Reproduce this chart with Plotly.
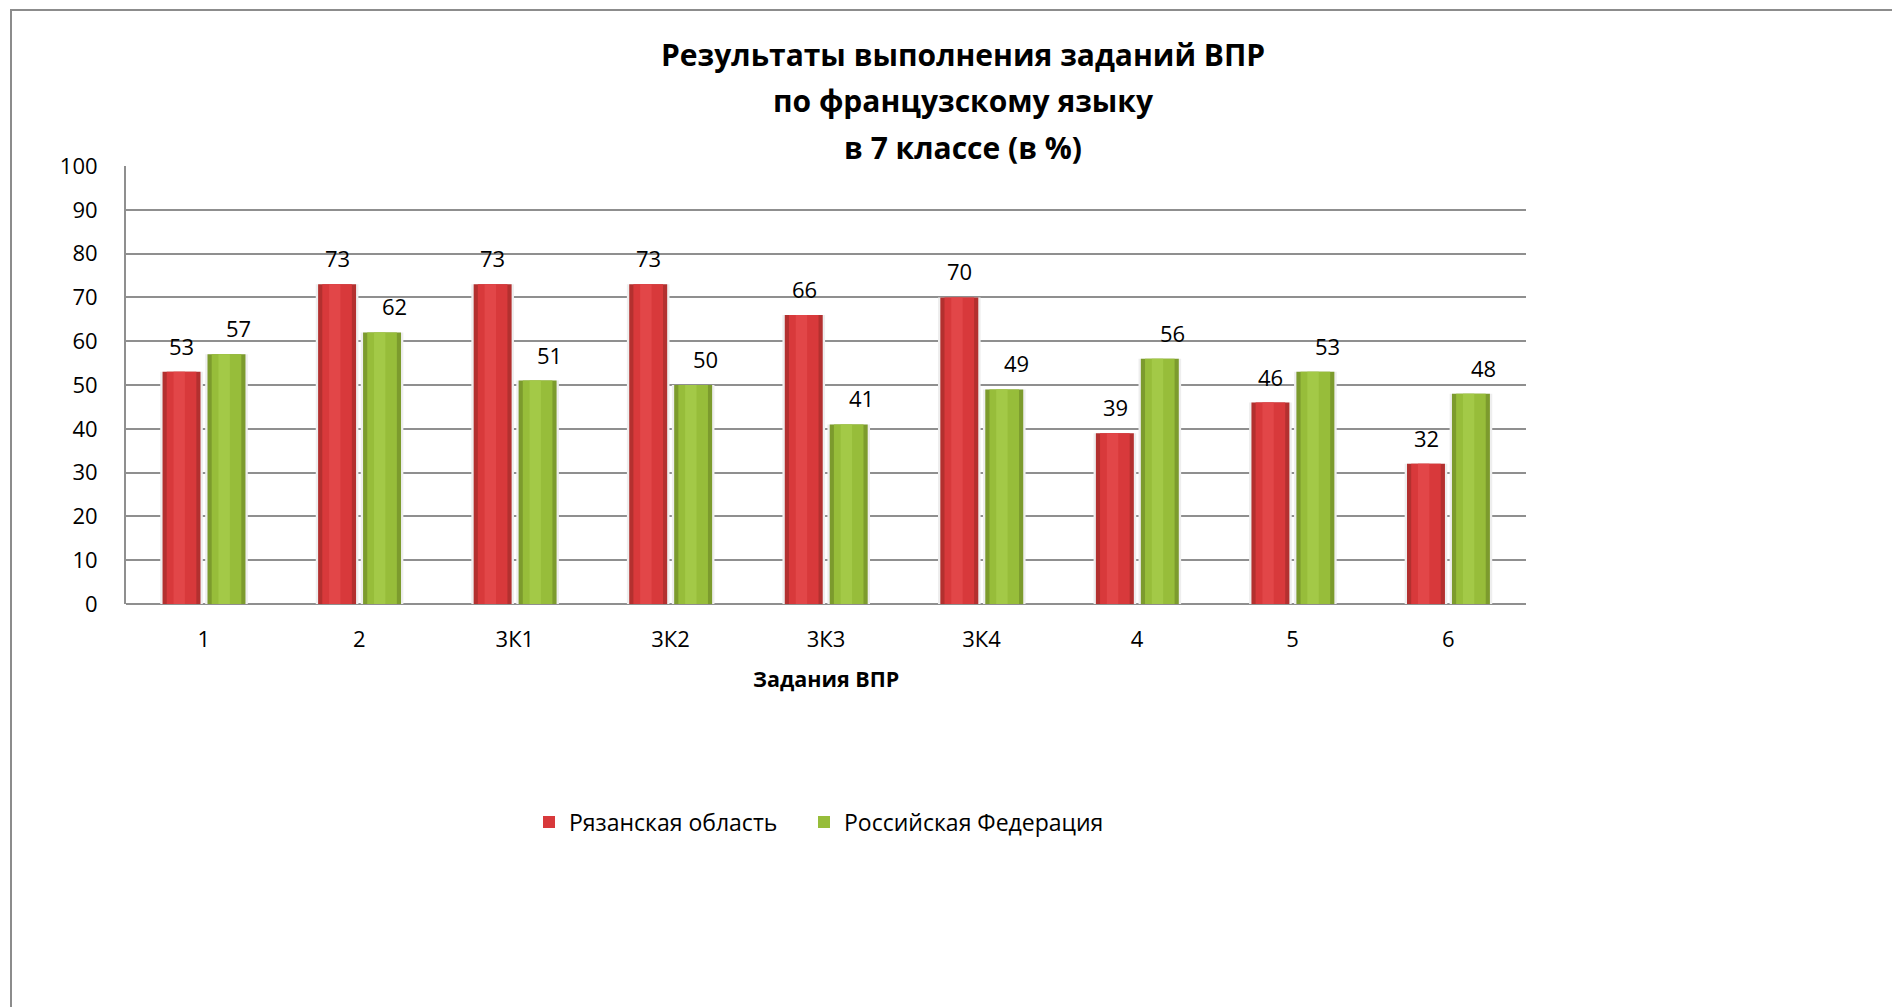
import plotly.graph_objects as go

# ВПР, французский язык, 7 класс
tasks = ["1", "2", "3К1", "3К2", "3К3", "3К4", "4", "5", "6"]
ryazan = [53, 73, 73, 73, 66, 70, 39, 46, 32]
russia = [57, 62, 51, 50, 41, 49, 56, 53, 48]
y_ticks = [0, 10, 20, 30, 40, 50, 60, 70, 80, 90, 100]

title_lines = ["Результаты выполнения заданий ВПР", "по французскому языку", "в 7 классе (в %)"]

W, H = 1892, 1007
PL, PR, PT, PB = 126, 1526, 166, 604   # plot area in px
FONT = "Open Sans"
BAR_W = 0.244

def px_x(x):
    return (x - PL) / (PR - PL)

def px_y(y):
    return (PB - y) / (PB - PT)

fig = go.Figure()

# each series is drawn as a few stacked-in-place layers to fake the Excel 3D shading
def add_series(values, name, center, colors, legend):
    glow, edge, body, light = colors
    layers = [
        (glow, BAR_W + 0.03, 0.0, False),
        (edge, BAR_W, 0.0, False),
        (body, BAR_W * 0.78, 0.0, True),
        (light, BAR_W * 0.3, -0.015, False),
    ]
    for color, w, shift, show in layers:
        fig.add_trace(go.Bar(
            x=tasks, y=values, name=name, width=w, offset=center + shift - w / 2,
            marker=dict(color=color, line=dict(width=0)),
            showlegend=show, legend=legend, hoverinfo="skip" if not show else None,
        ))

add_series(ryazan, "Рязанская область", -0.143,
           ("#EEEEEE", "#B3302F", "#D8393B", "#E24648"), "legend")
add_series(russia, "Российская Федерация", 0.146,
           ("#EEEEEE", "#7C9B2D", "#97BD3A", "#A3C947"), "legend2")

annotations = []
# data labels above the bars
for i, v in enumerate(ryazan):
    annotations.append(dict(x=i, y=v, xref="x", yref="y", text=str(v), showarrow=False,
                            xshift=-22, yshift=26, yanchor="middle",
                            font=dict(family=FONT, size=22, color="#000")))
for i, v in enumerate(russia):
    annotations.append(dict(x=i, y=v, xref="x", yref="y", text=str(v), showarrow=False,
                            xshift=35, yshift=26, yanchor="middle",
                            font=dict(family=FONT, size=22, color="#000")))

# title, three lines
for line, yc in zip(title_lines, [54, 101, 147]):
    annotations.append(dict(x=px_x(963), y=px_y(yc), xref="paper", yref="paper", text="<b>%s</b>" % line,
                            showarrow=False, xanchor="center", yanchor="middle",
                            font=dict(family=FONT, size=30, color="#000")))

# x axis title
annotations.append(dict(x=0.5, y=px_y(678), xref="paper", yref="paper", text="<b>Задания ВПР</b>",
                        showarrow=False, xanchor="center", yanchor="middle",
                        font=dict(family=FONT, size=21.5, color="#000")))

legend_font = dict(family=FONT, size=23, color="#000")
fig.update_layout(
    width=W, height=H,
    margin=dict(l=PL, r=W - PR, t=PT, b=H - PB),
    paper_bgcolor="white", plot_bgcolor="white",
    barmode="overlay",
    font=dict(family=FONT, size=22, color="#000"),
    annotations=annotations,
    showlegend=True,
    legend=dict(orientation="h", x=px_x(529), y=px_y(822), xanchor="left", yanchor="middle",
                font=legend_font, bgcolor="rgba(0,0,0,0)"),
    legend2=dict(orientation="h", x=px_x(804), y=px_y(822), xanchor="left", yanchor="middle",
                 font=legend_font, bgcolor="rgba(0,0,0,0)"),
    shapes=[dict(type="rect", xref="paper", yref="paper",
                 x0=px_x(11), x1=px_x(1960), y0=px_y(10), y1=px_y(1060),
                 line=dict(color="#8C8C8C", width=2), layer="below")],
)
fig.update_xaxes(type="category", showgrid=False, showline=False, ticks="",
                 ticklabelstandoff=20, tickfont=dict(family=FONT, size=22, color="#000"))
fig.update_yaxes(range=[0, 100], tickvals=y_ticks, showgrid=True, gridcolor="#8F8F8F", gridwidth=2,
                 showline=True, linecolor="#8F8F8F", linewidth=2, zeroline=True, zerolinecolor="#8F8F8F",
                 zerolinewidth=2, ticks="", ticklabelstandoff=22,
                 tickfont=dict(family=FONT, size=22, color="#000"))

fig.write_html("out.html", config={"displayModeBar": False},
               post_script="document.body.style.margin='0';")
